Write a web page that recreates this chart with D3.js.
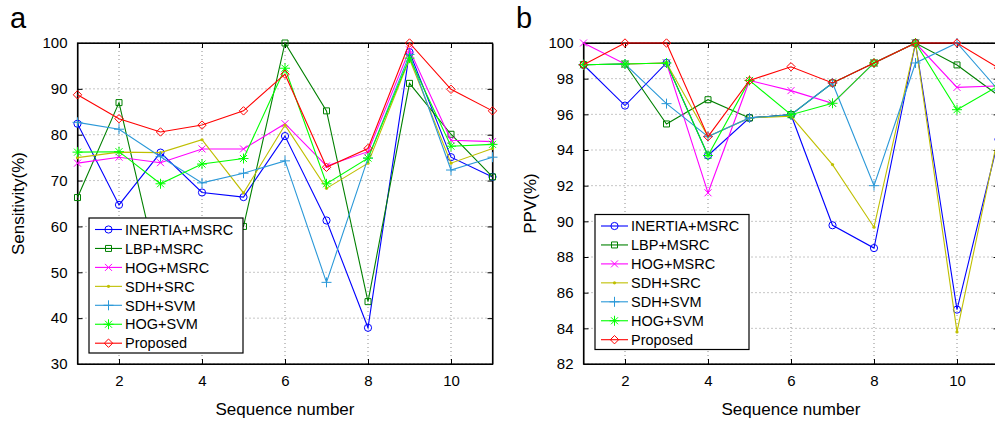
<!DOCTYPE html>
<html>
<head>
<meta charset="utf-8">
<script src="https://cdn.jsdelivr.net/npm/d3@7"></script>
<style>
  body { margin: 0; background: #fff; }
  text { font-family: Arial, "Liberation Sans", sans-serif; }
</style>
</head>
<body>
<div id="root"></div>
<script>
var width = 995;
var height = 422;

// x values (sequence number)
var seq = [1, 2, 3, 4, 5, 6, 7, 8, 9, 10, 11];
var xTicks = [2, 4, 6, 8, 10];
var methods = ['INERTIA+MSRC', 'LBP+MSRC', 'HOG+MSRC', 'SDH+SRC', 'SDH+SVM', 'HOG+SVM', 'Proposed'];

// panel a: sensitivity (%)
var sensInertia = [82.4, 64.7, 76.1, 67.4, 66.4, 79.7, 61.3, 37.9, 98.0, 75.1, 70.8];
var sensLbp = [66.3, 87.0, 48.3, 55.0, 60.0, 100, 85.2, 43.6, 91.2, 80.1, 70.8];
var sensHogMsrc = [73.8, 75.1, 73.9, 76.9, 76.9, 82.4, 73.2, 76.3, 98.5, 78.8, 78.5];
var sensSdhSrc = [75.0, 76.2, 76.1, 78.9, 67.3, 82.1, 68.3, 73.8, 96.5, 73.8, 77.0];
var sensSdhSvm = [82.7, 81.2, 75.2, 69.5, 71.6, 74.3, 47.8, 74.9, 97.5, 72.3, 75.1];
var sensHogSvm = [76.2, 76.3, 69.3, 73.6, 74.8, 94.5, 69.3, 74.9, 96.7, 77.5, 77.9];
var sensProposed = [88.7, 83.5, 80.6, 82.1, 85.2, 93.2, 72.9, 77.0, 100, 89.9, 85.2];
var sensTicks = [30, 40, 50, 60, 70, 80, 90, 100];

// panel b: PPV (%)
var ppvInertia = [98.78, 96.49, 98.88, 93.69, 95.8, 95.98, 89.78, 88.5, 100, 85.05, 94.6];
var ppvLbp = [98.78, 98.82, 95.46, 96.82, 95.8, 95.98, 97.76, 98.88, 100, 98.77, 97.05];
var ppvHogMsrc = [100, 98.82, 98.88, 91.6, 97.9, 97.33, 96.62, 98.88, 100, 97.51, 97.6];
var ppvSdhSrc = [98.78, 98.82, 98.88, 94.75, 95.8, 95.9, 93.18, 89.67, 100, 83.8, 94.9];
var ppvSdhSvm = [98.78, 98.82, 96.6, 94.75, 95.8, 95.98, 97.76, 92.0, 98.88, 100, 97.35];
var ppvHogSvm = [98.78, 98.82, 98.88, 93.69, 97.9, 95.98, 96.62, 98.88, 100, 96.26, 97.6];
var ppvProposed = [98.78, 100, 100, 94.75, 97.9, 98.67, 97.76, 98.88, 100, 100, 98.6];
var ppvTicks = [82, 84, 86, 88, 90, 92, 94, 96, 98, 100];

var colors = ['#0000ff', '#008000', '#ff00ff', '#bfbf00', '#2a98d8', '#00ff00', '#ff0000'];
var markers = ['circle', 'square', 'x', 'dot', 'plus', 'star', 'diamond'];

var svg = d3.select('#root')
    .append('svg')
    .attr('width', width).attr('height', height);

function markerPath(type) {
  var p = d3.path();
  if (type === 'circle') { p.moveTo(3.6, 0); p.arc(0, 0, 3.6, 0, 2 * Math.PI); }
  if (type === 'square') { p.rect(-3, -3, 6, 6); }
  if (type === 'x') { p.moveTo(-3.5, -3.5); p.lineTo(3.5, 3.5); p.moveTo(-3.5, 3.5); p.lineTo(3.5, -3.5); }
  if (type === 'plus') { p.moveTo(-5, 0); p.lineTo(5, 0); p.moveTo(0, -5); p.lineTo(0, 5); }
  if (type === 'star') {
    p.moveTo(-5, 0); p.lineTo(5, 0); p.moveTo(0, -5); p.lineTo(0, 5);
    p.moveTo(-3.5, -3.5); p.lineTo(3.5, 3.5); p.moveTo(-3.5, 3.5); p.lineTo(3.5, -3.5);
  }
  if (type === 'diamond') { p.moveTo(0, -4.2); p.lineTo(4.2, 0); p.lineTo(0, 4.2); p.lineTo(-4.2, 0); p.closePath(); }
  return p.toString();
}

function drawMarker(g, type, color, x, y) {
  if (type === 'dot') {
    g.append('circle').attr('cx', x).attr('cy', y).attr('r', 1.6).attr('fill', color);
  } else {
    g.append('path')
      .attr('d', markerPath(type))
      .attr('transform', 'translate(' + x + ',' + y + ')')
      .attr('fill', 'none').attr('stroke', color).attr('stroke-width', 1);
  }
}

function drawPanel(o) {
  var x = d3.scaleLinear().domain([1, 11]).range([o.left, o.left + 415]);
  var y = d3.scaleLinear().domain(o.yDomain).range([364, 43]);
  var g = svg.append('g');

  // dotted grid
  g.selectAll('.gx').data(xTicks).enter().append('line')
    .attr('x1', function (d) { return x(d); }).attr('x2', function (d) { return x(d); })
    .attr('y1', y.range()[0]).attr('y2', y.range()[1])
    .attr('stroke', '#8c8c8c').attr('stroke-width', 1).attr('stroke-dasharray', '1,3');
  g.selectAll('.gy').data(o.yTicks).enter().append('line')
    .attr('x1', x.range()[0]).attr('x2', x.range()[1])
    .attr('y1', function (d) { return y(d); }).attr('y2', function (d) { return y(d); })
    .attr('stroke', '#8c8c8c').attr('stroke-width', 1).attr('stroke-dasharray', '1,3');

  // axes, ticks pointing inwards
  var bottom = g.append('g').attr('transform', 'translate(0,364)')
    .call(d3.axisBottom(x).tickValues(xTicks).tickSizeInner(-5).tickSizeOuter(0).tickPadding(11));
  g.append('g').attr('transform', 'translate(0,43)')
    .call(d3.axisTop(x).tickValues(xTicks).tickSizeInner(-5).tickSizeOuter(0).tickFormat(''));
  var left = g.append('g').attr('transform', 'translate(' + o.left + ',0)')
    .call(d3.axisLeft(y).tickValues(o.yTicks).tickSizeInner(-5).tickSizeOuter(0).tickPadding(10));
  g.append('g').attr('transform', 'translate(' + (o.left + 415) + ',0)')
    .call(d3.axisRight(y).tickValues(o.yTicks).tickSizeInner(-5).tickSizeOuter(0).tickFormat(''));
  g.selectAll('.domain').attr('stroke', '#000');
  g.selectAll('.tick line').attr('stroke', '#000');
  g.selectAll('.tick text').attr('font-size', 15).attr('fill', '#000')
    .attr('font-family', 'Arial, "Liberation Sans", sans-serif');
  g.append('rect')
    .attr('x', o.left).attr('y', 43).attr('width', 415).attr('height', 321)
    .attr('fill', 'none').attr('stroke', '#000').attr('stroke-width', 1.2);

  // series lines and markers
  var line = d3.line()
    .x(function (d, i) { return x(seq[i]); })
    .y(function (d) { return y(d); });
  o.series.forEach(function (s, k) {
    g.append('path').datum(s)
      .attr('d', line)
      .attr('fill', 'none').attr('stroke', colors[k]).attr('stroke-width', 1.1);
    s.forEach(function (v, i) { drawMarker(g, markers[k], colors[k], x(seq[i]), y(v)); });
  });

  // legend
  var lg = g.append('g');
  lg.append('rect')
    .attr('x', o.left + 11.5).attr('y', o.legendTop)
    .attr('width', 154).attr('height', 135)
    .attr('fill', '#fff').attr('stroke', '#000').attr('stroke-width', 1.2);
  methods.forEach(function (m, k) {
    var ly = o.legendTop + 11.5 + k * 18.95;
    lg.append('line')
      .attr('x1', o.left + 17.5).attr('x2', o.left + 44.5)
      .attr('y1', ly).attr('y2', ly)
      .attr('stroke', colors[k]).attr('stroke-width', 1.1);
    drawMarker(lg, markers[k], colors[k], o.left + 31, ly);
    lg.append('text')
      .attr('x', o.left + 47.5).attr('y', ly + 5.2)
      .attr('font-size', 14.5).attr('fill', '#000')
      .text(m);
  });

  // labels
  svg.append('text')
    .attr('x', o.left + 207.5).attr('y', 415)
    .attr('text-anchor', 'middle').attr('font-size', 17)
    .text('Sequence number');
  svg.append('text')
    .attr('transform', 'translate(' + o.yLabelX + ',203.5) rotate(-90)')
    .attr('text-anchor', 'middle').attr('font-size', 17)
    .text(o.yLabel);
  svg.append('text')
    .attr('x', o.letterX).attr('y', 28)
    .attr('font-size', 29)
    .text(o.letter);
}

drawPanel({
  left: 77.5, yDomain: [30, 100], yTicks: sensTicks, legendTop: 218,
  series: [sensInertia, sensLbp, sensHogMsrc, sensSdhSrc, sensSdhSvm, sensHogSvm, sensProposed],
  yLabel: 'Sensitivity(%)', yLabelX: 24, letter: 'a', letterX: 10
});
drawPanel({
  left: 583.5, yDomain: [82, 100], yTicks: ppvTicks, legendTop: 214.5,
  series: [ppvInertia, ppvLbp, ppvHogMsrc, ppvSdhSrc, ppvSdhSvm, ppvHogSvm, ppvProposed],
  yLabel: 'PPV(%)', yLabelX: 536, letter: 'b', letterX: 516
});
</script>
</body>
</html>
